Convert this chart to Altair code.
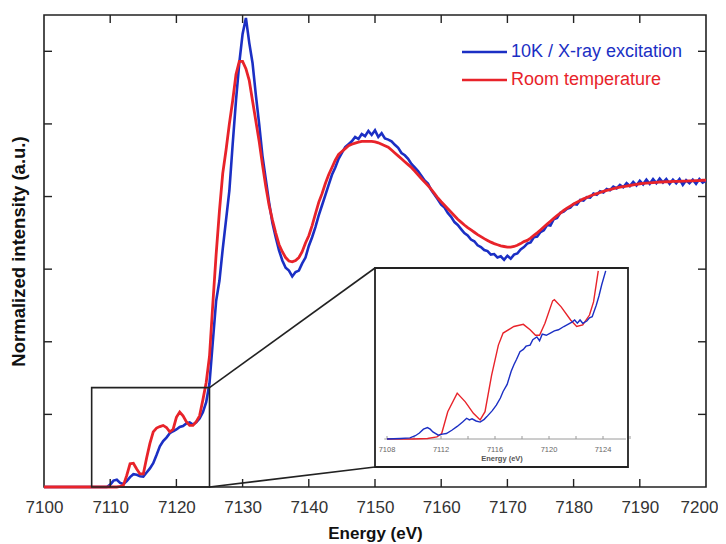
import altair as alt
import pandas as pd

# ---------------- data ----------------
series = ["10K / X-ray excitation", "Room temperature"]
colors = ["#1b2fc4", "#e8232a"]

# main spectra sampled every 0.5 eV from 7100 to 7200 (201 values)
blue_main = [
    0, 0, 0, 0, 0, 0, 0, 0, 0, 0,
    0, 0, 0, 0, 0, 0, 0, 0, 0, 0,
    0.008, 0.022, 0.025, 0.014, 0.010, 0.020, 0.034, 0.044, 0.042, 0.037,
    0.036, 0.050, 0.064, 0.082, 0.110, 0.140, 0.158, 0.170, 0.185, 0.192,
    0.198, 0.207, 0.210, 0.219, 0.222, 0.215, 0.223, 0.236, 0.257, 0.292,
    0.357, 0.50, 0.64, 0.71, 0.82, 0.92, 1.02, 1.18, 1.33, 1.46,
    1.56, 1.615, 1.53, 1.46, 1.35, 1.25, 1.14, 1.06, 0.98, 0.91,
    0.86, 0.815, 0.78, 0.755, 0.745, 0.725, 0.74, 0.745, 0.77, 0.79,
    0.83, 0.86, 0.895, 0.935, 0.97, 1.005, 1.04, 1.075, 1.10, 1.13,
    1.15, 1.17, 1.18, 1.19, 1.205, 1.198, 1.215, 1.208, 1.226, 1.212,
    1.228, 1.205, 1.218, 1.2, 1.196, 1.19, 1.178, 1.168, 1.15, 1.142,
    1.13, 1.112, 1.1, 1.088, 1.072, 1.055, 1.045, 1.022, 1.006, 0.99,
    0.972, 0.962, 0.943, 0.93, 0.912, 0.902, 0.888, 0.874, 0.866, 0.852,
    0.846, 0.832, 0.826, 0.816, 0.812, 0.8, 0.802, 0.79, 0.794, 0.782,
    0.796, 0.786, 0.8, 0.804, 0.818, 0.826, 0.838, 0.842, 0.86, 0.862,
    0.878, 0.884, 0.902, 0.9, 0.922, 0.926, 0.944, 0.948, 0.958, 0.962,
    0.974, 0.972, 0.988, 0.986, 0.998, 0.996, 1.01, 1.006, 1.018, 1.014,
    1.026, 1.022, 1.034, 1.028, 1.04, 1.032, 1.046, 1.036, 1.05, 1.038,
    1.054, 1.042, 1.058, 1.044, 1.06, 1.046, 1.062, 1.048, 1.06, 1.044,
    1.058, 1.046, 1.06, 1.04, 1.056, 1.046, 1.058, 1.044, 1.06, 1.048,
    1.055,
]
red_main = [
    0, 0, 0, 0, 0, 0, 0, 0, 0, 0,
    0, 0, 0, 0, 0, 0, 0, 0, 0, 0,
    0, 0, 0, 0.002, 0.006, 0.04, 0.08, 0.082, 0.062, 0.045,
    0.045, 0.10, 0.15, 0.19, 0.203, 0.208, 0.212, 0.205, 0.19, 0.198,
    0.24, 0.258, 0.245, 0.225, 0.212, 0.212, 0.225, 0.245, 0.30, 0.36,
    0.45, 0.63, 0.80, 0.95, 1.08, 1.16, 1.25, 1.33, 1.42, 1.465,
    1.465, 1.44, 1.40, 1.33, 1.26, 1.19, 1.11, 1.035, 0.97, 0.92,
    0.875, 0.835, 0.81, 0.79, 0.778, 0.775, 0.78, 0.79, 0.81, 0.84,
    0.865, 0.9, 0.94, 0.98, 1.01, 1.045, 1.075, 1.1, 1.125, 1.145,
    1.155, 1.165, 1.175, 1.18, 1.184, 1.187, 1.19, 1.19, 1.19, 1.19,
    1.188, 1.185, 1.18, 1.175, 1.17, 1.16, 1.15, 1.14, 1.13, 1.12,
    1.11, 1.1, 1.088, 1.075, 1.062, 1.05, 1.038, 1.025, 1.01, 0.995,
    0.982, 0.97, 0.958, 0.946, 0.934, 0.922, 0.912, 0.902, 0.893, 0.885,
    0.877, 0.869, 0.862, 0.855, 0.849, 0.843, 0.838, 0.834, 0.83, 0.828,
    0.826, 0.826, 0.828, 0.832, 0.838, 0.845, 0.849, 0.857, 0.866, 0.875,
    0.885, 0.895, 0.905, 0.915, 0.925, 0.934, 0.943, 0.952, 0.96, 0.967,
    0.974, 0.98, 0.986, 0.992, 0.997, 1.002, 1.006, 1.01, 1.014, 1.018,
    1.021, 1.024, 1.027, 1.03, 1.032, 1.034, 1.036, 1.038, 1.04, 1.042,
    1.044, 1.045, 1.046, 1.047, 1.048, 1.049, 1.05, 1.05, 1.051, 1.051,
    1.052, 1.052, 1.052, 1.053, 1.053, 1.054, 1.054, 1.055, 1.055, 1.056,
    1.056,
]
energy_main = [7100 + 0.5 * i for i in range(len(blue_main))]

# inset (pre-edge zoom)
inset_red_e = [7108, 7109.9, 7111.0, 7111.7, 7112.05, 7112.5, 7113.2, 7113.8, 7114.4,
               7114.9, 7115.26, 7115.75, 7116.25, 7116.6, 7117.4, 7118.1, 7118.6,
               7119.0, 7119.3, 7119.7, 7120.27, 7120.4, 7120.9, 7121.6, 7122.05,
               7122.5, 7123.0, 7123.3, 7123.65]
inset_red_v = [0, 0, 0.001, 0.004, 0.010, 0.05, 0.084, 0.068, 0.047,
               0.035, 0.05, 0.117, 0.172, 0.194, 0.206, 0.21, 0.20,
               0.19, 0.19, 0.212, 0.253, 0.255, 0.242, 0.218, 0.206,
               0.209, 0.227, 0.251, 0.308]
inset_blue_e = [7108, 7109, 7109.7, 7110.1, 7110.4, 7110.7, 7111.0, 7111.2, 7111.4,
                7111.8, 7112.1, 7112.4, 7112.8, 7113.2, 7113.6, 7113.9, 7114.1,
                7114.3, 7114.6, 7114.9, 7115.2, 7115.4, 7115.8, 7116.1, 7116.4,
                7116.6, 7116.9, 7117.2, 7117.4, 7117.6, 7117.85, 7118.1, 7118.3,
                7118.6, 7118.8, 7119.1, 7119.3, 7119.5, 7119.8, 7120.1, 7120.4,
                7120.7, 7121.1, 7121.4, 7121.7, 7121.9, 7122.1, 7122.3, 7122.5,
                7122.8, 7123.0, 7123.2, 7123.5, 7123.7, 7123.9, 7124.2]
inset_blue_v = [0, 0.001, 0.002, 0.006, 0.011, 0.018, 0.021, 0.018, 0.013,
                0.007, 0.009, 0.010, 0.016, 0.023, 0.031, 0.038, 0.035,
                0.037, 0.033, 0.031, 0.036, 0.041, 0.052, 0.062, 0.075,
                0.087, 0.100, 0.124, 0.136, 0.146, 0.160, 0.164, 0.170,
                0.172, 0.182, 0.187, 0.180, 0.192, 0.190, 0.194, 0.198,
                0.200, 0.206, 0.210, 0.214, 0.218, 0.212, 0.218, 0.212,
                0.216, 0.222, 0.224, 0.245, 0.262, 0.282, 0.308]

x_ticks = [7100, 7110, 7120, 7130, 7140, 7150, 7160, 7170, 7180, 7190, 7200]
y_ticks = [0.25, 0.5, 0.75, 1.0, 1.25, 1.5]
inset_labels = [7108, 7112, 7116, 7120, 7124]
inset_minor = [7108, 7110, 7112, 7114, 7116, 7118, 7120, 7122, 7124, 7126]
zoom_box = {"x0": 7107.2, "x1": 7125.0, "y0": 0.0, "y1": 0.342}

# ---------------- layout ----------------
W, H = 662, 472
FONT = "Liberation Sans"
FRAME = "#222222"
TICK = 8
INSET = {"x0": 331, "x1": 584, "y0": 253, "y1": 452}

xs = alt.Scale(domain=[7100, 7200], nice=False, zero=False)
ys = alt.Scale(domain=[0, 1.625], nice=False, zero=False)
ixs = alt.Scale(domain=[7108, 7124], range=[343, 559], nice=False, zero=False)
iys = alt.Scale(domain=[0, 0.3], range=[424, 260.2], nice=False, zero=False)
cscale = alt.Scale(domain=series, range=colors)

blue_df = pd.DataFrame({"E": energy_main, "v": blue_main, "series": series[0]})
red_df = pd.DataFrame({"E": energy_main, "v": red_main, "series": series[1]})

x_axis = alt.Axis(values=x_ticks, format="d", ticks=False, tickSize=0, domain=False,
                  grid=False, labelFontSize=17, labelColor="#333333", labelPadding=12,
                  labelFlush=False, labelOverlap=False,
                  labelOffset={"condition": {"test": "datum.value == 7200", "value": -7},
                               "value": 0},
                  labelFont=FONT, title="Energy (eV)", titleFontSize=17,
                  titleFontWeight="bold", titleColor="#111111", titlePadding=10,
                  titleFont=FONT)
y_axis = alt.Axis(labels=False, ticks=False, tickSize=0, domain=False, grid=False,
                  title="Normalized intensity (a.u.)", titleFontSize=18.5,
                  titleFontWeight="bold", titleColor="#111111", titleFont=FONT,
                  titleX=-26, titleY=H / 2, titleAngle=-90, titleBaseline="middle",
                  titleAlign="center")


def X(field):
    return alt.X(field, scale=xs, axis=x_axis)


def Y(field):
    return alt.Y(field, scale=ys, axis=y_axis)


blue_line = alt.Chart(blue_df).mark_line(strokeWidth=2.6).encode(
    x=X("E:Q"), y=Y("v:Q"),
    color=alt.Color("series:N", scale=cscale, legend=None),
)
red_line = alt.Chart(red_df).mark_line(strokeWidth=2.8).encode(
    x=X("E:Q"), y=Y("v:Q"),
    color=alt.Color("series:N", scale=cscale, legend=None),
)

xt_df = pd.DataFrame({"E": x_ticks[1:-1]})
yt_df = pd.DataFrame({"v": y_ticks})
tick_style = dict(color=FRAME, strokeWidth=1.4)
bottom_ticks = alt.Chart(xt_df).mark_rule(**tick_style).encode(
    x=X("E:Q"), y=alt.value(H), y2=alt.value(H - TICK))
top_ticks = alt.Chart(xt_df).mark_rule(**tick_style).encode(
    x=X("E:Q"), y=alt.value(0), y2=alt.value(TICK))
left_ticks = alt.Chart(yt_df).mark_rule(**tick_style).encode(
    y=Y("v:Q"), x=alt.value(0), x2=alt.value(TICK))
right_ticks = alt.Chart(yt_df).mark_rule(**tick_style).encode(
    y=Y("v:Q"), x=alt.value(W), x2=alt.value(W - TICK))

zb_df = pd.DataFrame([zoom_box])
zoom_rect = alt.Chart(zb_df).mark_rect(fillOpacity=0, stroke=FRAME, strokeWidth=1.6).encode(
    x=X("x0:Q"), x2="x1:Q", y=Y("y0:Q"), y2="y1:Q")
conn_top = alt.Chart(zb_df).mark_rule(color=FRAME, strokeWidth=1.6).encode(
    x=X("x1:Q"), y=Y("y1:Q"),
    x2=alt.value(INSET["x0"]), y2=alt.value(INSET["y0"]))
conn_bot = alt.Chart(zb_df).mark_rule(color=FRAME, strokeWidth=1.6).encode(
    x=X("x1:Q"), y=Y("y0:Q"),
    x2=alt.value(INSET["x0"]), y2=alt.value(INSET["y1"]))
inset_box = alt.Chart(zb_df).mark_rect(fill="white", stroke=FRAME, strokeWidth=1.8).encode(
    x=alt.value(INSET["x0"]), x2=alt.value(INSET["x1"]),
    y=alt.value(INSET["y0"]), y2=alt.value(INSET["y1"]))

# legend (manual)
leg_layers = []
for name, ypix in zip(series, [37, 65]):
    d = pd.DataFrame({"series": [name]})
    leg_layers.append(alt.Chart(d).mark_rule(strokeWidth=2.6).encode(
        x=alt.value(418), x2=alt.value(463), y=alt.value(ypix),
        color=alt.Color("series:N", scale=cscale, legend=None)))
    leg_layers.append(alt.Chart(d).mark_text(align="left", baseline="middle",
                                             fontSize=18, font=FONT).encode(
        x=alt.value(467), y=alt.value(ypix), text="series:N",
        color=alt.Color("series:N", scale=cscale, legend=None)))

main = alt.layer(blue_line, red_line, bottom_ticks, top_ticks, left_ticks, right_ticks,
                 zoom_rect, conn_top, conn_bot, inset_box, *leg_layers)

# ---------------- inset ----------------
ib_df = pd.DataFrame({"E": inset_blue_e, "v": inset_blue_v, "series": series[0]})
ir_df = pd.DataFrame({"E": inset_red_e, "v": inset_red_v, "series": series[1]})
i_axis_df = pd.DataFrame({"x0": [7107.8], "x1": [7125.7], "y": [0.0]})

i_axis = alt.Chart(i_axis_df).mark_rule(color="#9a9a9a", strokeWidth=1).encode(
    x=alt.X("x0:Q", scale=ixs, axis=None), x2="x1:Q",
    y=alt.Y("y:Q", scale=iys, axis=None))
i_minor = alt.Chart(pd.DataFrame({"E": inset_minor})).mark_rule(color="#9a9a9a").encode(
    x=alt.X("E:Q", scale=ixs, axis=None), y=alt.value(424), y2=alt.value(421))
i_labels = alt.Chart(pd.DataFrame({"E": inset_labels})).mark_text(
    fontSize=7.5, color="#666666", font=FONT, baseline="middle").encode(
    x=alt.X("E:Q", scale=ixs, axis=None), y=alt.value(435),
    text=alt.Text("E:Q", format="d"))
i_title = alt.Chart(pd.DataFrame({"t": ["Energy (eV)"]})).mark_text(
    fontSize=7.5, fontWeight="bold", color="#555555", font=FONT, baseline="middle").encode(
    x=alt.value(458), y=alt.value(444), text="t:N")
i_blue = alt.Chart(ib_df).mark_line(strokeWidth=1.4).encode(
    x=alt.X("E:Q", scale=ixs, axis=None), y=alt.Y("v:Q", scale=iys, axis=None),
    color=alt.Color("series:N", scale=cscale, legend=None))
i_red = alt.Chart(ir_df).mark_line(strokeWidth=1.4).encode(
    x=alt.X("E:Q", scale=ixs, axis=None), y=alt.Y("v:Q", scale=iys, axis=None),
    color=alt.Color("series:N", scale=cscale, legend=None))

inset = alt.layer(i_axis, i_minor, i_labels, i_title, i_red, i_blue)

chart = alt.layer(main, inset).resolve_scale(x="independent", y="independent").properties(
    width=W, height=H,
    autosize=alt.AutoSizeParams(type="none"),
    padding={"left": 36, "top": 7, "right": 12, "bottom": 57},
).configure(font=FONT).configure_view(stroke=FRAME, strokeWidth=1.6)

chart.save("out.html", embed_options={"renderer": "svg", "actions": False})
